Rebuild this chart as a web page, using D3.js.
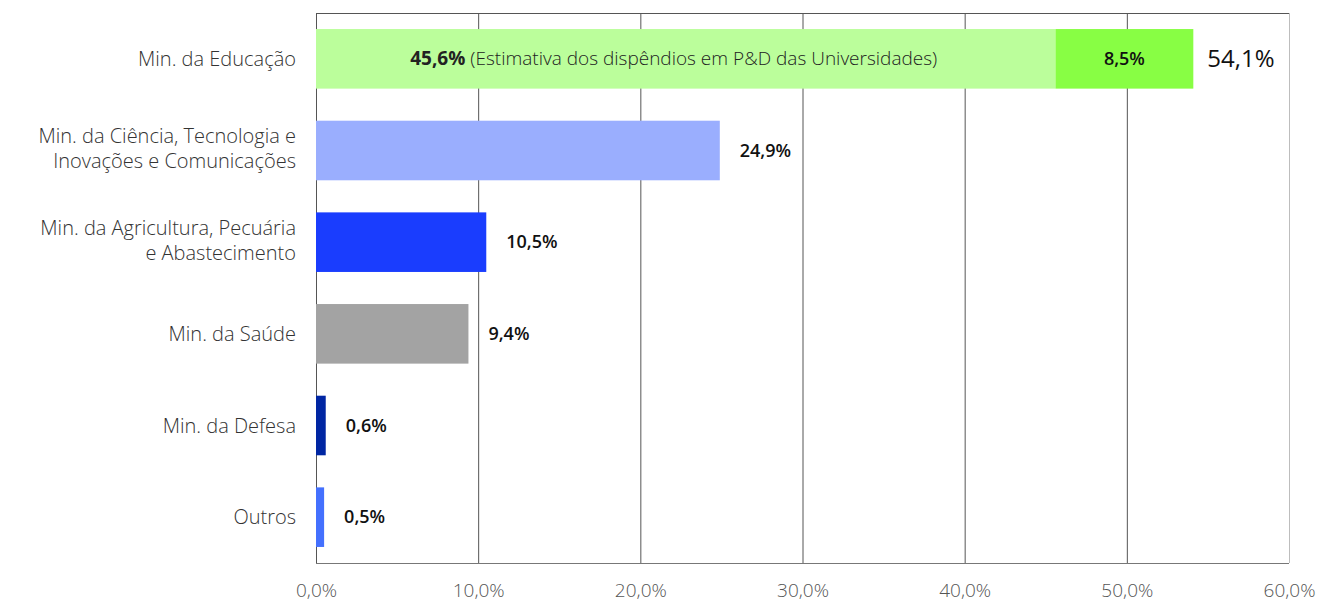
<!DOCTYPE html>
<html>
<head>
<meta charset="utf-8">
<script src="https://cdn.jsdelivr.net/npm/d3@7"></script>
<style>
  body { margin: 0; background: #fff; }
  text { font-family: "Open Sans", Lato, sans-serif; }
</style>
</head>
<body>
<script>
// categories (top to bottom) and their shares in %
var categories = [
    ["Min. da Educação"],
    ["Min. da Ciência, Tecnologia e", "Inovações e Comunicações"],
    ["Min. da Agricultura, Pecuária", "e Abastecimento"],
    ["Min. da Saúde"],
    ["Min. da Defesa"],
    ["Outros"]
];
var values = [54.1, 24.9, 10.5, 9.4, 0.6, 0.5];
var labels = ["54,1%", "24,9%", "10,5%", "9,4%", "0,6%", "0,5%"];
var colors = ["#bbfe9b", "#9aaefe", "#1a3dfe", "#a3a3a3", "#0026a3", "#4470fe"];

// split of the education bar
var eduParts = [45.6, 8.5];
var eduColors = ["#bbfe9b", "#88fe44"];
var eduLabels = ["45,6%", "8,5%"];
var eduNote = " (Estimativa dos dispêndios em P&D das Universidades)";

var ticks = [0, 10, 20, 30, 40, 50, 60];

var width = 1319, height = 603,
    margin = {top: 13, right: 30, bottom: 40, left: 316};

var svg = d3.select("body").append("svg")
    .attr("width", width)
    .attr("height", height);

var x = d3.scaleLinear()
    .domain([0, 60])
    .range([margin.left, width - margin.right]);

var y = d3.scaleBand()
    .domain(d3.range(categories.length))
    .range([margin.top, height - margin.bottom])
    .paddingInner(0.35)
    .paddingOuter(0.175);

var plotTop = margin.top, plotBottom = height - margin.bottom;

// frame + grid
svg.append("g").selectAll("line")
    .data(ticks)
    .enter().append("line")
    .attr("x1", d => x(d) + 0.5).attr("x2", d => x(d) + 0.5)
    .attr("y1", plotTop).attr("y2", plotBottom)
    .attr("stroke", d => d === 60 ? "#bdbdbd" : "#555")
    .attr("stroke-width", 1);
svg.append("line")
    .attr("x1", x(0)).attr("x2", x(60))
    .attr("y1", plotTop + 0.5).attr("y2", plotTop + 0.5)
    .attr("stroke", "#555");
svg.append("line")
    .attr("x1", x(0)).attr("x2", x(60))
    .attr("y1", plotBottom + 0.5).attr("y2", plotBottom + 0.5)
    .attr("stroke", "#777");

// x axis labels
var xAxis = d3.axisBottom(x)
    .tickValues(ticks)
    .tickSize(0)
    .tickPadding(21)
    .tickFormat(d => d3.format(".1f")(d).replace(".", ",") + "%");
var ax = svg.append("g")
    .attr("transform", "translate(0," + plotBottom + ")")
    .call(xAxis);
ax.select(".domain").remove();
ax.selectAll("text")
    .attr("fill", "#555")
    .style("font-family", "'Open Sans', sans-serif")
    .style("font-size", "19px")
    .style("font-weight", 300);

// bars (education bar drawn as two parts)
var bars = svg.append("g");
values.forEach(function(v, i) {
    if (i === 0) {
        var start = 0;
        eduParts.forEach(function(p, j) {
            bars.append("rect")
                .attr("x", x(start))
                .attr("y", y(i))
                .attr("width", x(start + p) - x(start))
                .attr("height", y.bandwidth())
                .attr("fill", eduColors[j]);
            start += p;
        });
    } else {
        bars.append("rect")
            .attr("x", x(0))
            .attr("y", y(i))
            .attr("width", x(v) - x(0))
            .attr("height", y.bandwidth())
            .attr("fill", colors[i]);
    }
});

// category labels, one text per line
var catG = svg.append("g");
categories.forEach(function(d, i) {
    var cy = y(i) + y.bandwidth() / 2;
    d.forEach(function(line, k) {
        catG.append("text")
            .attr("x", margin.left - 20)
            .attr("y", cy + (k - (d.length - 1) / 2) * 25 - (d.length > 1 ? 2 : 0))
            .attr("dy", "0.35em")
            .attr("text-anchor", "end")
            .attr("fill", "#333")
            .style("font-size", "20px")
            .style("font-weight", 300)
            .text(line);
    });
});

// value labels
svg.append("g").selectAll("text")
    .data(values.slice(1))
    .enter().append("text")
    .attr("x", d => x(d) + 20)
    .attr("y", (d, i) => y(i + 1) + y.bandwidth() / 2)
    .attr("dy", "0.35em")
    .attr("fill", "#111")
    .style("font-size", "18px")
    .style("font-weight", 600)
    .text((d, i) => labels[i + 1]);

// education labels
var cy0 = y(0) + y.bandwidth() / 2;
var note = svg.append("text")
    .attr("x", (x(0) + x(eduParts[0])) / 2 - 12)
    .attr("y", cy0)
    .attr("dy", "0.35em")
    .attr("text-anchor", "middle")
    .attr("fill", "#222")
    .style("font-size", "19px");
note.append("tspan").style("font-weight", 700).text(eduLabels[0]);
note.append("tspan").style("font-weight", 300).text(eduNote);

svg.append("text")
    .attr("x", (x(eduParts[0]) + x(values[0])) / 2)
    .attr("y", cy0)
    .attr("dy", "0.35em")
    .attr("text-anchor", "middle")
    .attr("fill", "#111")
    .style("font-size", "18px")
    .style("font-weight", 600)
    .text(eduLabels[1]);

svg.append("text")
    .attr("x", x(values[0]) + 14)
    .attr("y", cy0)
    .attr("dy", "0.35em")
    .attr("fill", "#111")
    .style("font-size", "24px")
    .style("font-weight", 500)
    .text(labels[0]);
</script>
</body>
</html>
